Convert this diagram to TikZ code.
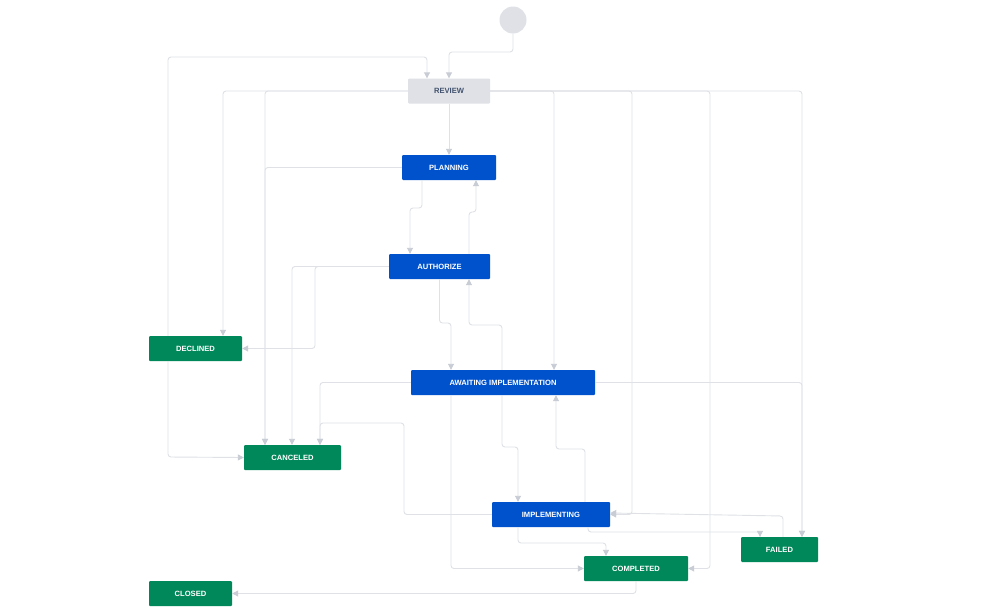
\documentclass[tikz,border=0pt]{standalone}
\usepackage{fontspec}
\setmainfont{Liberation Sans}
\usetikzlibrary{arrows.meta}
\definecolor{ln}{HTML}{DFE1E6}
\definecolor{tip}{HTML}{C8CCD4}
\definecolor{bl}{HTML}{0052CC}
\definecolor{gr}{HTML}{00875A}
\definecolor{rv}{HTML}{DFE1E6}
\definecolor{rvt}{HTML}{42526E}
\tikzset{
 st/.style={minimum height=25pt,inner sep=0pt,font=\bfseries\fontsize{7.6}{9}\selectfont,text=white,rounded corners=1pt},
 bst/.style={st,fill=bl},
 gst/.style={st,fill=gr},
 e/.style={draw=ln,line width=0.9pt,rounded corners=3pt,-{Triangle[length=6pt,width=6pt,color=tip]}},
}
\begin{document}
\begin{tikzpicture}[x=1pt,y=-1pt]
\useasboundingbox[fill=white] (0,0) rectangle (999,616);
\node[circle,fill=rv,minimum size=27pt,inner sep=0pt] (start) at (513,20) {};
\node[st,fill=rv,text=rvt,minimum width=82pt] (review) at (449,91) {REVIEW};
\node[bst,minimum width=94pt] (planning) at (449,167.5) {PLANNING};
\node[bst,minimum width=101pt] (authorize) at (439.5,266.5) {AUTHORIZE};
\node[gst,minimum width=93pt] (declined) at (195.5,348.5) {DECLINED};
\node[bst,minimum width=184pt] (awaiting) at (503,382.5) {AWAITING IMPLEMENTATION};
\node[gst,minimum width=97pt] (canceled) at (292.5,457.5) {CANCELED};
\node[bst,minimum width=118pt] (implementing) at (551,514.5) {IMPLEMENTING};
\node[gst,minimum width=77pt] (failed) at (779.5,549.5) {FAILED};
\node[gst,minimum width=104pt] (completed) at (636,568.5) {COMPLETED};
\node[gst,minimum width=83pt] (closed) at (190.5,593.5) {CLOSED};

\draw[e] (start.south) -- (513,52) -- (449,52) -- (review.north);
\draw[e] ([xshift=-27.5pt]declined.north) -- (168,57) -- (427,57) -- ([xshift=-22pt]review.north);
\draw[e] ([xshift=-27.5pt]declined.south) -- (168,457) -- (canceled.west);
\draw[e] (review.west) -- (223,91) -- ([xshift=27.5pt]declined.north);
\draw[e] (review.west) -- (265,91) -- ([xshift=-27.5pt]canceled.north);
\draw[e] (review.south) -- (planning.north);
\draw[e] (review.east) -- (554,91) -- ([xshift=51pt]awaiting.north);
\draw[e] (review.east) -- (632,91) -- (632,514.5) -- (implementing.east);
\draw[e] (review.east) -- (710,91) -- (710,568.5) -- (completed.east);
\draw[e] (review.east) -- (802,91) -- ([xshift=22.5pt]failed.north);
\draw[e] (planning.west) -- (265,167.5) -- ([xshift=-27.5pt]canceled.north);
\draw[e] ([xshift=-27pt]planning.south) -- (422,208) -- (410,208) -- ([xshift=-29.5pt]authorize.north);
\draw[e] ([xshift=29.5pt]authorize.north) -- (469,212) -- (476,212) -- ([xshift=27pt]planning.south);
\draw[e] (authorize.west) -- (315,266.5) -- (315,348.5) -- (declined.east);
\draw[e] (authorize.west) -- (292,266.5) -- ([xshift=-0.5pt]canceled.north);
\draw[e] (authorize.south) -- (439.5,323) -- (451,323) -- ([xshift=-52pt]awaiting.north);
\draw[e] ([xshift=-1pt]awaiting.north) -- (502,325) -- (469,325) -- ([xshift=29.5pt]authorize.south);
\draw[e] (awaiting.west) -- (320,382.5) -- ([xshift=27.5pt]canceled.north);
\draw[e] (awaiting.east) -- (802,382.5) -- ([xshift=22.5pt]failed.north);
\draw[e] ([xshift=-52pt]awaiting.south) -- (451,568.5) -- (completed.west);
\draw[e] ([xshift=-1pt]awaiting.south) -- (502,447) -- (518,447) -- ([xshift=-33pt]implementing.north);
\draw[e] ([xshift=34pt]implementing.north) -- (585,449) -- (556,449) -- ([xshift=53pt]awaiting.south);
\draw[e] (implementing.west) -- (404,514.5) -- (404,423) -- (320,423) -- ([xshift=27.5pt]canceled.north);
\draw[e] ([xshift=37pt]implementing.south) -- (588,532) -- (760,532) -- ([xshift=-19.5pt]failed.north);
\draw[e] ([xshift=-33pt]implementing.south) -- (518,543) -- (606,543) -- ([xshift=-30pt]completed.north);
\draw[e] ([xshift=3.5pt]failed.north) -- (783,516) -- ([yshift=1.5pt]implementing.east);
\draw[e] (completed.south) -- (636,593.5) -- (closed.east);
\end{tikzpicture}
\end{document}
